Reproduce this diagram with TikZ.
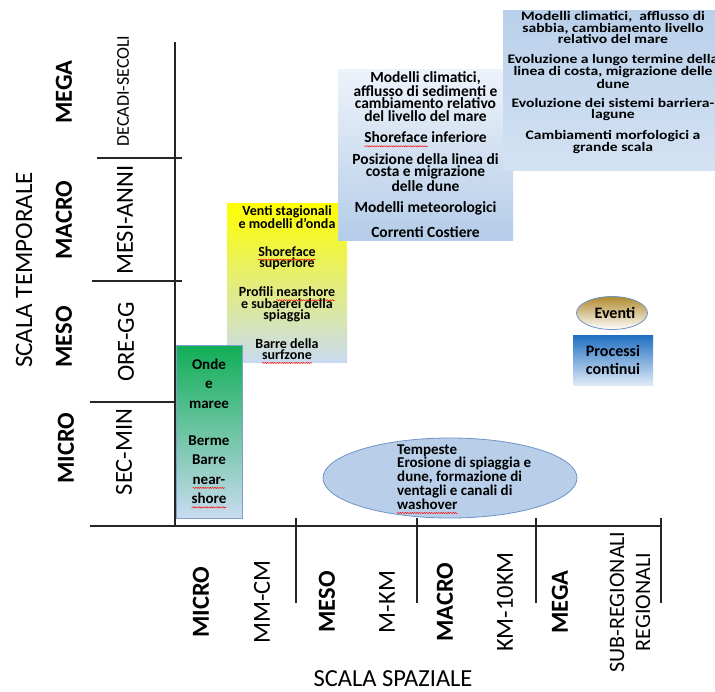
\documentclass[tikz,border=0pt]{standalone}
\usepackage{fontspec}
\setmainfont{Carlito}
\newfontfamily\widefont[FakeStretch=1.2]{Carlito}
\usetikzlibrary{positioning, shapes.geometric, decorations.pathmorphing}

\definecolor{paleblue}{HTML}{C9DBF0}
\definecolor{greentop}{HTML}{10AE55}
\definecolor{goldtop}{HTML}{B08A2E}
\definecolor{bluetop}{HTML}{1F6FC3}
\definecolor{skytop}{HTML}{EEF3FA}
\definecolor{skybottom}{HTML}{B4CCE8}
\definecolor{climatop}{HTML}{B9D0EA}
\definecolor{ovalfill}{HTML}{B8CEE9}
\definecolor{ovalline}{HTML}{6F93C6}
\definecolor{edgeblue}{HTML}{7F9FC9}

% red wavy spell-check line
\newlength\spellwd
\newcommand\spell[1]{\settowidth\spellwd{#1}%
  \tikz[overlay, baseline=0pt]\draw[red, line width=0.45pt, decorate,
    decoration={snake, amplitude=0.6pt, segment length=2.4pt}] (0pt,-3.4pt) -- (\the\spellwd,-3.4pt);#1}

\begin{document}
\begin{tikzpicture}[x=1pt, y=-1pt,
    axis/.style={line width=1.2pt, black!85},
    bigscale/.style={rotate=90, font=\fontsize{24.5}{24.5}\selectfont\bfseries},
    unit/.style={rotate=90, font=\fontsize{24.5}{24.5}\selectfont},
    panel/.style={inner sep=0pt, align=center, bottom color=paleblue},
    oval/.style={ellipse, inner sep=0pt, draw=ovalline, line width=0.8pt}
]
    \useasboundingbox (0,0) rectangle (715,691);

    % axes
    \coordinate (ytop) at (175,42);
    \coordinate (O) at (175,526);
    \coordinate (xleft) at (90,526);
    \coordinate (xend) at (661,526);
    \draw[axis] (ytop) -- (O);
    \draw[axis] (xleft) -- (xend);
    \foreach \y/\a/\b in {158/97/182, 281/92/182, 402/90/175}
        \draw[axis] (\a,\y) -- (\b,\y);
    \foreach \x in {296,417,536,661}
        \draw[axis] (\x,518) -- (\x,603);

    % scala temporale
    \node[unit, font=\fontsize{25}{25}\selectfont] (tempo) at (24,270) {SCALA TEMPORALE};
    \node[bigscale] (tmega) at (64,92) {MEGA};
    \node[bigscale] (tmacro) at (64,220) {MACRO};
    \node[bigscale] (tmeso) at (64,337) {MESO};
    \node[bigscale] (tmicro) at (66,448) {MICRO};
    \node[unit, font=\fontsize{18}{18}\selectfont] (tdec) at (123,91) {DECADI-SECOLI};
    \node[unit] (tmesi) at (125,220) {MESI-ANNI};
    \node[unit] (tore) at (126,342) {ORE-GG};
    \node[unit] (tsec) at (124,452) {SEC-MIN};

    % scala spaziale
    \node[bigscale] (smicro) at (201,602) {MICRO};
    \node[unit] (smm) at (262,602) {MM-CM};
    \node[bigscale] (smeso) at (327,602) {MESO};
    \node[unit] (skm) at (387,602) {M-KM};
    \node[bigscale] (smacro) at (445,602) {MACRO};
    \node[unit] (s10km) at (505,602) {KM-10KM};
    \node[bigscale] (smega) at (560,602) {MEGA};
    \node[unit, align=center, font=\fontsize{22}{26}\selectfont] (sreg) at (630,602) {SUB-REGIONALI\\REGIONALI};
    \node[font=\fontsize{24.5}{24.5}\selectfont] (spazio) at (393,679) {SCALA SPAZIALE};

    % processi
    \node[panel, top color=yellow, minimum width=120pt, minimum height=159pt,
        font=\fontsize{14}{11.5}\selectfont\bfseries] (onda) at (287,282.5)
        {Venti stagionali\\e modelli d’onda\\[16pt]\spell{Shoreface}\\superiore\\[16pt]
         Profili \spell{nearshore}\\e subaerei della\\spiaggia\\[15pt]Barre della\\\spell{surfzone}};
    \node[panel, top color=greentop, draw=edgeblue, line width=0.6pt, minimum width=66pt, minimum height=173pt,
        font=\fontsize{15}{19.5}\selectfont\bfseries] (maree) at (209,431.5)
        {Onde\\e\\maree\\[17.5pt]Berme\\Barre\\\spell{near-}\\\spell{shore}};
    \node[panel, top color=skytop, bottom color=skybottom, minimum width=175pt, minimum height=171pt,
        font=\fontsize{15.5}{12.2}\selectfont\bfseries] (costa) at (425.5,154.5)
        {Modelli climatici,\\afflusso di sedimenti e\\cambiamento relativo\\del livello del mare\\[9.5pt]
         \spell{Shoreface} inferiore\\[9.5pt]Posizione della linea di\\costa e migrazione\\delle dune\\[9.5pt]
         Modelli meteorologici\\[9.5pt]Correnti Costiere};
    \node[panel, top color=climatop, bottom color=paleblue!80!white, minimum width=220pt, minimum height=160pt] (clima) at (613,90) {};
    \node[align=center, inner sep=0pt, font=\fontsize{13}{10.7}\widefont\bfseries] (climatext) at ([yshift=7.5pt]clima.center)
        {Modelli climatici,~ afflusso di\\sabbia, cambiamento livello\\relativo del mare\\[9pt]
         Evoluzione a lungo termine della\\linea di costa, migrazione delle\\dune\\[8.5pt]
         Evoluzione dei sistemi barriera-\\lagune\\[9pt]Cambiamenti morfologici a\\grande scala};

    % legenda
    \node[oval, top color=goldtop, minimum width=71pt, minimum height=33pt,
        font=\fontsize{16}{16}\selectfont\bfseries] (eventi) at (612,313) {\hspace{6pt}Eventi};
    \node[panel, top color=bluetop, bottom color=paleblue!60!white, minimum width=80pt, minimum height=50pt,
        font=\fontsize{16}{18}\selectfont\bfseries] (continui) at (613,360) {Processi\\continui};

    % tempeste
    \node[oval, fill=ovalfill, minimum width=254pt, minimum height=80pt] (tempeste) at (450,478) {};
    \node[anchor=west, align=left, inner sep=0pt, font=\fontsize{15}{12.5}\selectfont\bfseries] (tempetext) at (397,477)
        {Tempeste\\Erosione di spiaggia e\\dune, formazione di\\ventagli e canali di\\\spell{washover}};
\end{tikzpicture}
\end{document}
